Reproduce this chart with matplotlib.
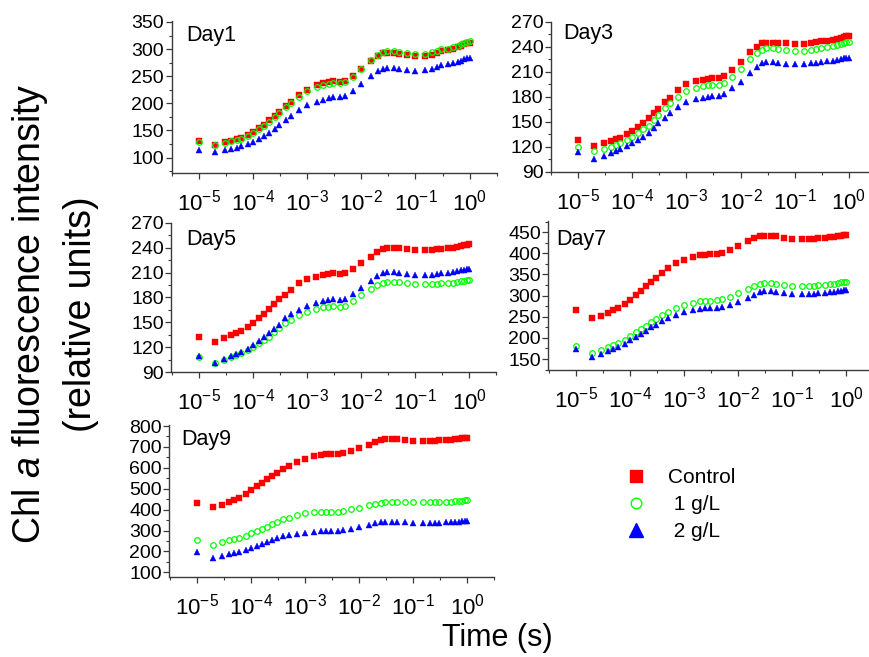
import matplotlib
matplotlib.use("Agg")
import matplotlib.pyplot as plt
from matplotlib.lines import Line2D
from matplotlib.ticker import FixedLocator, FixedFormatter, MultipleLocator, NullFormatter

plt.rcParams['font.family'] = ['Liberation Sans', 'DejaVu Sans']
plt.rcParams['mathtext.fontset'] = 'custom'
plt.rcParams['mathtext.rm'] = 'Liberation Sans'
plt.rcParams['mathtext.it'] = 'Liberation Sans:italic'
plt.rcParams['mathtext.bf'] = 'Liberation Sans:bold'

# ---------------- data ----------------
time_s = [1e-5, 2e-5, 3e-5, 4e-5, 5e-5, 6e-5, 8e-5, 1e-4, 1.3e-4, 1.6e-4, 2e-4, 2.5e-4, 3e-4,
          4e-4, 5e-4, 7e-4, 1e-3, 1.5e-3, 2e-3, 2.5e-3, 3e-3,
          4e-3, 5e-3, 7e-3, 1e-2, 1.5e-2, 2e-2, 2.5e-2, 3e-2,
          4e-2, 5e-2, 7e-2, 0.1, 0.15, 0.2, 0.25, 0.3,
          0.4, 0.5, 0.6, 0.7, 0.8, 0.9, 1.0]

series_names = ["Control", " 1 g/L", " 2 g/L"]

day1_control = [130, 124, 128, 131.5, 134.5, 137, 142, 148, 154, 161, 169, 177.5, 184.5,
                194.5, 203, 215, 225, 233, 237, 239.5, 240.5,
                240, 241, 250, 264, 279, 288, 292, 293,
                293, 291.5, 288.5, 287, 287, 290, 293, 296,
                298, 300, 303, 306, 309, 311, 312]
day1_1g = [129.5, 123.5, 127, 130.5, 133, 135, 140, 146, 152, 159, 166, 175, 182,
           193, 200, 212, 222, 230, 234, 236.5, 238,
           238, 239, 249, 264, 280, 290, 295, 296.5,
           296.5, 295, 292.5, 291, 291.5, 294, 297, 300,
           301, 303, 306, 310, 312, 313.5, 315]
day1_2g = [114, 110.5, 114, 116.5, 118.5, 120.5, 124.5, 129, 134.5, 140, 146, 153, 159.5,
           170, 177, 188, 196.5, 203, 207, 209.5, 211,
           211.5, 213, 222, 235, 251, 260, 264, 265.5,
           265, 263.5, 261.5, 260.5, 261, 264, 267, 270,
           272, 274, 277, 279, 281, 283, 284]

day3_control = [128, 121, 124, 127, 129, 131, 135, 139, 144, 148.5, 154, 160, 165.5,
                174, 179, 188, 195, 198.5, 200, 201, 202,
                202.5, 205, 212, 222, 234, 240, 244, 245,
                245, 244.5, 244, 243.5, 243.5, 244.5, 245.5, 246.5,
                247, 248, 249.5, 250.5, 251.5, 252.5, 253]
day3_1g = [120, 115, 117, 120, 122, 124, 128, 132, 137, 141, 145, 152, 158,
           167, 172, 180, 187, 190.5, 192.5, 193.5, 194.5,
           194.5, 197, 204, 213, 225, 232, 236, 238,
           238, 237, 236, 235, 235, 236, 237, 238.5,
           239.5, 240.5, 242, 243.5, 244.5, 245.5, 246]
day3_2g = [114, 105.5, 109, 113, 115, 117, 120.5, 124, 128, 132, 136, 143, 149,
           155, 161, 168, 173.5, 177, 179, 180, 181,
           181, 183.5, 190, 198, 209, 216, 220, 221.5,
           221.5, 220.5, 219.5, 219, 219, 220, 221, 222,
           222.5, 223, 224, 225, 226, 226.5, 227]

day5_control = [132, 126, 131, 135, 137, 139.5, 144, 149, 155, 160, 166, 172, 178,
                183, 189, 197, 202, 205, 207, 208, 209,
                208, 209, 214, 221, 229, 235, 238.5, 240,
                240, 239.5, 238, 237, 237, 237.5, 238, 238.5,
                239, 240, 241, 242, 243, 243.5, 244]
day5_1g = [108.5, 101, 104.5, 109, 111, 113.5, 117, 120.5, 125, 129, 133, 139, 143,
           149, 153.5, 159, 163, 166, 168, 169, 169.5,
           169, 170, 176, 183, 190, 195, 198, 199,
           199, 198.5, 197, 196, 196, 196, 196.5, 197,
           197.5, 198, 199, 199.5, 200, 200.5, 201]
day5_2g = [110, 101.5, 105.5, 109.5, 112, 114.5, 118.5, 122.5, 127.5, 132, 137, 142.5, 147,
           155, 160, 165.5, 169.5, 173, 175.5, 177, 178,
           177.5, 178.5, 184, 191, 200, 206, 209.5, 211,
           211, 210, 208.5, 207, 207, 207.5, 208.5, 209.5,
           210, 211, 212, 213, 213.5, 214, 214.5]

day7_control = [265, 246, 252.5, 259.5, 265, 269.5, 279, 289.5, 301, 311, 322, 333, 342,
                354, 364, 376, 384.5, 392, 395.5, 397, 398,
                398, 400, 407, 416, 428, 436, 440, 442,
                442, 440.5, 437, 434, 433, 433, 434, 435,
                437, 438, 439, 440.5, 441.5, 442.5, 443]
day7_1g = [181.5, 163.5, 171, 178, 183, 187, 196, 205, 213, 220, 229, 238, 245,
           254, 261, 271, 278, 283, 286, 287.5, 288,
           289, 291, 297, 305, 315, 322, 327, 329,
           329, 327.5, 325, 323, 322.5, 322.5, 323, 324.5,
           325.5, 327, 328, 329.5, 331, 332, 333]
day7_2g = [173.5, 154, 162, 169.5, 174, 178, 186, 194, 202, 209, 217, 225, 231,
           239, 246, 255, 261.5, 266, 268.5, 269.5, 270,
           270, 272, 278, 285.5, 295, 302, 308, 311,
           311, 309, 306, 303.5, 303, 303.5, 304.5, 306,
           307, 308.5, 309.5, 310.5, 311.5, 312.5, 313]

day9_control = [434, 411, 424, 437, 447, 457, 475, 493, 512, 528, 545, 563, 577,
                594, 608, 628, 644, 657, 663, 665, 666,
                666, 670, 680, 693, 711, 724, 733, 737,
                738, 737, 733, 729, 728, 728, 729, 731,
                733, 735, 737, 739, 741, 742.5, 744]
day9_1g = [254, 231, 246, 254, 260, 265, 276, 286, 298, 308, 318, 330, 340,
           353, 362, 373, 382, 387, 389, 390, 390,
           391, 394, 402, 410, 421, 429, 434, 437,
           437, 436.5, 435.5, 435, 434.5, 434.5, 435, 436,
           437, 438.5, 440, 441.5, 443, 444.5, 446]
day9_2g = [195, 167, 178, 187, 192, 197, 207, 217, 228, 237, 246, 257, 266,
           274, 279, 285, 290, 294, 296, 297, 298,
           298, 301, 309, 318, 328, 334, 339, 341,
           341, 340, 338.5, 337.5, 337, 337, 337.5, 338,
           339, 340, 341, 342.5, 343.5, 344.5, 345.5]

panel_titles = ["Day1", "Day3", "Day5", "Day7", "Day9"]
panel_series = [
    (day1_control, day1_1g, day1_2g),
    (day3_control, day3_1g, day3_2g),
    (day5_control, day5_1g, day5_2g),
    (day7_control, day7_1g, day7_2g),
    (day9_control, day9_1g, day9_2g),
]
panel_ylims = [(72, 352), (90, 270), (90, 270), (124, 477), (79, 805)]
panel_ymajor = [50, 30, 30, 50, 100]
panel_yticks = [
    [100, 150, 200, 250, 300, 350],
    [90, 120, 150, 180, 210, 240, 270],
    [90, 120, 150, 180, 210, 240, 270],
    [150, 200, 250, 300, 350, 400, 450],
    [100, 200, 300, 400, 500, 600, 700, 800],
]
xtick_exps = [-5, -4, -3, -2, -1, 0]

# ---------------- layout ----------------
W, H = 870, 657
fig = plt.figure(figsize=(W / 100, H / 100), dpi=100)

def px_axes(left, top, right, bottom):
    return fig.add_axes([left / W, 1 - bottom / H, (right - left) / W, (bottom - top) / H])

axes_px = [
    (171.7, 20.9, 496.7, 172.8),
    (551.0, 21.7, 876.0, 171.7),
    (171.5, 222.7, 496.5, 372.3),
    (548.5, 220.7, 873.5, 370.0),
    (169.5, 425.0, 494.5, 576.7),
]
title_px = [(186.5, 25.5), (563.0, 22.5), (186.5, 229.0), (556.5, 229.0), (181.5, 429.0)]

colors = ["#ff0000", "#00ff00", "#0000ff"]
markers = ["s", "o", "^"]
msizes = [3.8, 4.0, 4.6]
spine_col = "#3a3a3a"

for i, (title, ser) in enumerate(zip(panel_titles, panel_series)):
    ax = px_axes(*axes_px[i])
    for k in range(3):
        if markers[k] == "o":
            ax.plot(time_s, ser[k], linestyle="none", marker="o", markersize=msizes[k],
                    markerfacecolor="none", markeredgecolor=colors[k], markeredgewidth=0.9,
                    clip_on=False)
        else:
            ax.plot(time_s, ser[k], linestyle="none", marker=markers[k], markersize=msizes[k],
                    markerfacecolor=colors[k], markeredgecolor=colors[k], markeredgewidth=0.3,
                    clip_on=False)
    ax.set_xscale("log")
    ax.set_xlim(10 ** -5.5, 10 ** 0.5)
    ax.set_ylim(*panel_ylims[i])
    ax.xaxis.set_major_locator(FixedLocator([10.0 ** e for e in xtick_exps]))
    ax.xaxis.set_major_formatter(FixedFormatter([r"$\mathregular{10^{%d}}$" % e for e in xtick_exps]))
    ax.xaxis.set_minor_locator(FixedLocator([10.0 ** (e + 0.5) for e in range(-6, 1)]))
    ax.xaxis.set_minor_formatter(NullFormatter())
    ax.yaxis.set_major_locator(FixedLocator(panel_yticks[i]))
    ax.yaxis.set_minor_locator(MultipleLocator(panel_ymajor[i] / 2))
    for s in ["top", "right"]:
        ax.spines[s].set_visible(False)
    for s in ["left", "bottom"]:
        ax.spines[s].set_color(spine_col)
        ax.spines[s].set_linewidth(1.0)
    ax.tick_params(axis="both", which="major", direction="out", length=4, width=0.9,
                   color=spine_col, labelsize=14, labelcolor="black")
    ax.tick_params(axis="both", which="minor", direction="out", length=2.5, width=0.8,
                   color=spine_col)
    ax.tick_params(axis="x", which="major", pad=8, labelsize=16)
    ax.tick_params(axis="y", which="major", pad=1.5)
    ax.patch.set_alpha(0)
    tx, ty = title_px[i]
    fig.text(tx / W, 1 - ty / H, title, fontsize=15.5, ha="left", va="top")

# legend
handles = [
    Line2D([], [], linestyle="none", marker="s", markersize=8.4, markerfacecolor=colors[0],
           markeredgecolor=colors[0]),
    Line2D([], [], linestyle="none", marker="o", markersize=7.6, markerfacecolor="none",
           markeredgecolor=colors[1], markeredgewidth=1.0),
    Line2D([], [], linestyle="none", marker="^", markersize=9.5, markerfacecolor=colors[2],
           markeredgecolor=colors[2]),
]
fig.legend(handles, series_names, loc="upper left", bbox_to_anchor=(626 / W, 1 - 468 / H),
           frameon=False, fontsize=15, handlelength=1.0, handletextpad=1.0,
           labelspacing=0.38, borderpad=0, borderaxespad=0)

# axis titles
fig.text(30 / W, 1 - 314 / H, r"Chl $\mathit{a}$ fluorescence intensity", rotation=90,
         fontsize=27, ha="center", va="center")
fig.text(81 / W, 1 - 314 / H, "(relative units)", rotation=90,
         fontsize=27, ha="center", va="center")
fig.text(497 / W, 1 - 638 / H, "Time (s)", fontsize=22, ha="center", va="center")

fig.savefig("out.png", dpi=100)
